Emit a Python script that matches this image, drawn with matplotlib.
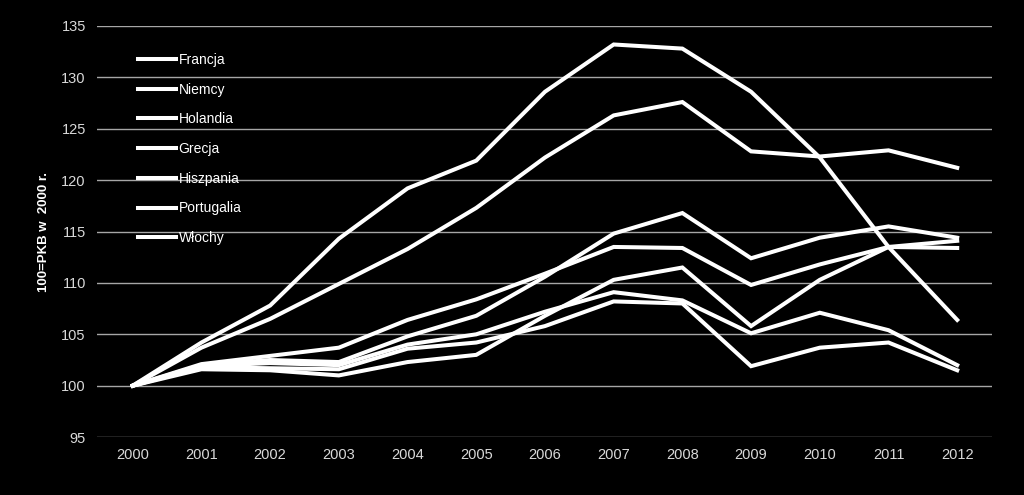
import matplotlib.pyplot as plt
import numpy as np

years = ['2000', '2001', '2002', '2003', '2004', '2005', '2006',
         '2007', '2008', '2009', '2010', '2011', '2012']

francja    = [100, 102.1, 102.9, 103.7, 106.4, 108.4, 110.9, 113.5, 113.4, 109.8, 111.8, 113.5, 114.1]
niemcy     = [100, 101.6, 101.5, 101.0, 102.3, 103.0, 106.8, 110.3, 111.5, 105.8, 110.3, 113.5, 113.4]
holandia   = [100, 102.0, 102.5, 102.3, 104.8, 106.8, 110.6, 114.8, 116.8, 112.4, 114.4, 115.5, 114.4]
grecja     = [100, 104.2, 107.8, 114.3, 119.2, 121.9, 128.6, 133.2, 132.8, 128.6, 122.2, 113.5, 106.4]
hiszpania  = [100, 103.7, 106.5, 109.9, 113.3, 117.3, 122.2, 126.3, 127.6, 122.8, 122.3, 122.9, 121.2]
portugalia = [100, 101.9, 102.2, 102.0, 104.0, 105.0, 107.2, 109.1, 108.3, 105.1, 107.1, 105.4, 102.0]
wlochy     = [100, 101.8, 101.7, 101.6, 103.6, 104.2, 105.8, 108.2, 108.0, 101.9, 103.7, 104.2, 101.5]

series = [('Francja', francja), ('Niemcy', niemcy), ('Holandia', holandia),
          ('Grecja', grecja), ('Hiszpania', hiszpania),
          ('Portugalia', portugalia), ('Włochy', wlochy)]

plt.rcParams['font.family'] = ['Liberation Sans', 'DejaVu Sans']

fig = plt.figure(figsize=(10.24, 4.95), dpi=100, facecolor='black')
ax = fig.add_axes([0.0947, 0.117, 0.8743, 0.8305], facecolor='black')

x = np.arange(len(years))
for name, vals in series:
    ax.plot(x, vals, color='white', linewidth=2.9, label=name,
            solid_joinstyle='miter', zorder=3)

ax.set_xlim(-0.52, 12.51)
ax.set_ylim(95, 135)
ax.set_yticks(np.arange(95, 136, 5))
ax.set_xticks(x)
ax.set_xticklabels(years)
ax.grid(axis='y', color='#a6a6a6', linewidth=1.0, zorder=1)
for s in ax.spines.values():
    s.set_visible(False)
ax.tick_params(length=0, colors='#d9d9d9', labelsize=10.5)
ax.tick_params(axis='y', pad=8)
ax.tick_params(axis='x', pad=8)

ax.set_ylabel('100=PKB w  2000 r.', color='white', fontsize=9.5,
              fontweight='bold', labelpad=8)

leg = ax.legend(loc='upper left', bbox_to_anchor=(0.04, 0.948), frameon=False,
                fontsize=10, handlelength=2.7, handletextpad=0.2,
                labelspacing=1.13, borderaxespad=0)
for t in leg.get_texts():
    t.set_color('white')

fig.savefig('out.png', dpi=100, facecolor='black')
